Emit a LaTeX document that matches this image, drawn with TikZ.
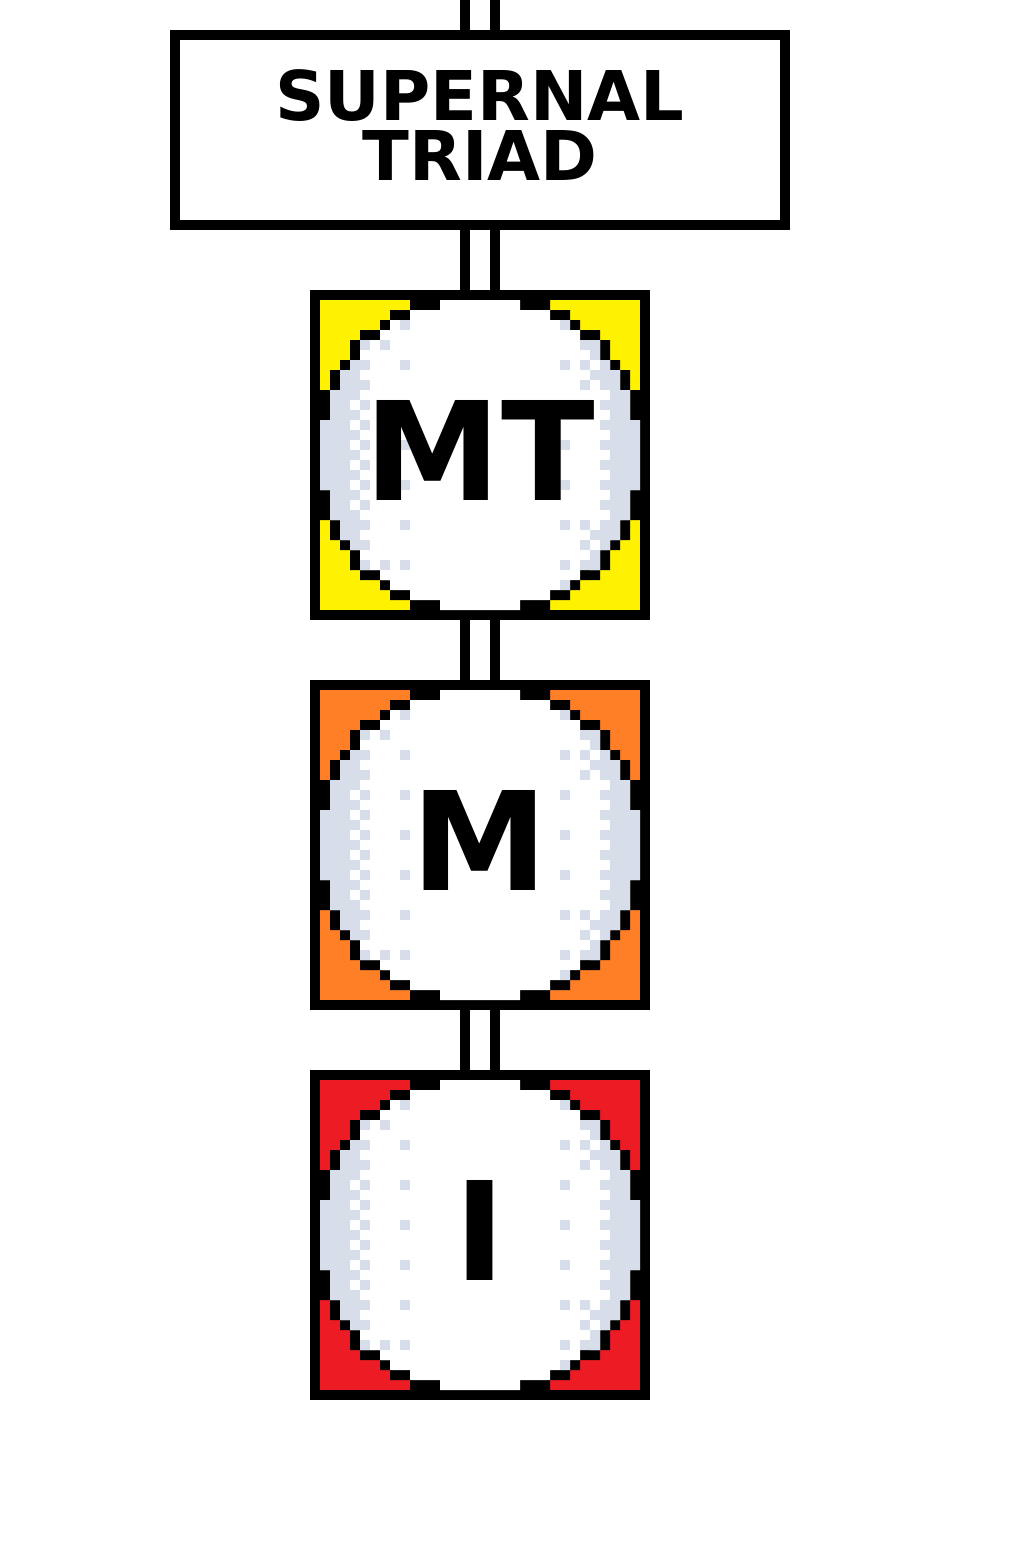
\documentclass[tikz,border=0pt]{standalone}
\usepackage{fontspec}
\newfontfamily\djv{DejaVu Sans}
\definecolor{yel}{HTML}{FFF200}
\definecolor{ora}{HTML}{FF7F27}
\definecolor{redc}{HTML}{ED1C24}
\definecolor{dith}{HTML}{D8DEE9}

\newcommand\pixouter{\fill[black] (0,-155) -- (-70,-155) -- (-70,-145) -- (-90,-145) -- (-90,-135) -- (-100,-135) -- (-100,-125) -- (-120,-125) -- (-120,-115) -- (-130,-115) -- (-130,-95) -- (-140,-95) -- (-140,-85) -- (-150,-85) -- (-150,-65) -- (-160,-65) -- (-160,65) -- (-150,65) -- (-150,85) -- (-140,85) -- (-140,95) -- (-130,95) -- (-130,115) -- (-120,115) -- (-120,125) -- (-100,125) -- (-100,135) -- (-90,135) -- (-90,145) -- (-70,145) -- (-70,155) -- (70,155) -- (70,145) -- (90,145) -- (90,135) -- (100,135) -- (100,125) -- (120,125) -- (120,115) -- (130,115) -- (130,95) -- (140,95) -- (140,85) -- (150,85) -- (150,65) -- (160,65) -- (160,-65) -- (150,-65) -- (150,-85) -- (140,-85) -- (140,-95) -- (130,-95) -- (130,-115) -- (120,-115) -- (120,-125) -- (100,-125) -- (100,-135) -- (90,-135) -- (90,-145) -- (70,-145) -- (70,-155) -- cycle;}

\newcommand\pixinner[1]{\path[#1] (-40,-155) -- (-40,-145) -- (-70,-145) -- (-70,-135) -- (-90,-135) -- (-90,-125) -- (-100,-125) -- (-100,-115) -- (-120,-115) -- (-120,-95) -- (-130,-95) -- (-130,-85) -- (-140,-85) -- (-140,-65) -- (-150,-65) -- (-150,-35) -- (-160,-35) -- (-160,35) -- (-150,35) -- (-150,65) -- (-140,65) -- (-140,85) -- (-130,85) -- (-130,95) -- (-120,95) -- (-120,115) -- (-100,115) -- (-100,125) -- (-90,125) -- (-90,135) -- (-70,135) -- (-70,145) -- (-40,145) -- (-40,155) -- (40,155) -- (40,145) -- (70,145) -- (70,135) -- (90,135) -- (90,125) -- (100,125) -- (100,115) -- (120,115) -- (120,95) -- (130,95) -- (130,85) -- (140,85) -- (140,65) -- (150,65) -- (150,35) -- (160,35) -- (160,-35) -- (150,-35) -- (150,-65) -- (140,-65) -- (140,-85) -- (130,-85) -- (130,-95) -- (120,-95) -- (120,-115) -- (100,-115) -- (100,-125) -- (90,-125) -- (90,-135) -- (70,-135) -- (70,-145) -- (40,-145) -- (40,-155) -- cycle;}

\newcommand\pixdither{%
  \foreach \cc in {0,...,31}{%
    \foreach \rr in {0,...,30}{%
      \pgfmathsetmacro\ax{(10*\cc-155)/160}%
      \pgfmathsetmacro\ay{(10*\rr-150)/155}%
      \pgfmathsetmacro\dd{sqrt((\ax)*(\ax)+0.3*(\ay)*(\ay))}%
      \pgfmathtruncatemacro\kk{(\dd>=0.81) ? 1 : ((\dd>=0.75) ? (mod(\cc+\rr,2)==0) : ((\dd>=0.68) ? and(mod(\cc,2)==0, mod(\rr,2)==0) : and(or(\cc==8,\cc==24), mod(\rr,4)==2)))}%
      \ifnum\kk=1 \fill[dith] (-160+10*\cc,-155+10*\rr) rectangle ++(10,10);\fi
    }}}

\newcommand\pixcircle[1]{%
  \begin{scope}[shift={(#1.center)}]
    \pixouter
    \pixinner{fill=white}
    \begin{scope}
      \pixinner{clip}
      \pixdither
    \end{scope}
  \end{scope}}

\tikzset{
  sephnode/.style={draw=black, line width=10pt, minimum width=330pt, minimum height=320pt,
    inner sep=0pt},
  sephlabel/.style={inner sep=0pt, text depth=10pt,
    font=\djv\bfseries\fontsize{137.2pt}{137.2pt}\selectfont},
  rail/.style={draw=black, line width=10pt, double=white, double distance=20pt},
  titlebox/.style={draw=black, line width=10pt, fill=white, minimum width=610pt,
    minimum height=190pt, inner sep=0pt, align=center, text depth=10pt,
    font=\djv\bfseries\fontsize{68.6pt}{60pt}\selectfont}
}

\begin{document}
\begin{tikzpicture}[x=1pt, y=-1pt]
  \fill[white] (0,0) rectangle (1010,1550);
  \useasboundingbox (0,0) rectangle (1010,1550);

  \coordinate (top) at (480,0);
  \node[titlebox] (triad) at (480,130) {SUPERNAL\\TRIAD};
  \node[sephnode, fill=yel] (mt) at (480,455) {};
  \node[sephnode, fill=ora] (m) at (480,845) {};
  \node[sephnode, fill=redc] (i) at (480,1235) {};

  \pixcircle{mt}
  \pixcircle{m}
  \pixcircle{i}

  \node[sephlabel] (mtlabel) at (mt.center) {MT};
  \node[sephlabel] (mlabel) at (m.center) {M};
  \node[sephlabel] (ilabel) at (i.center) {I};

  \draw[rail] (top) -- (triad.north);
  \draw[rail] (triad.south) -- (mt.north);
  \draw[rail] (mt.south) -- (m.north);
  \draw[rail] (m.south) -- (i.north);
\end{tikzpicture}
\end{document}
